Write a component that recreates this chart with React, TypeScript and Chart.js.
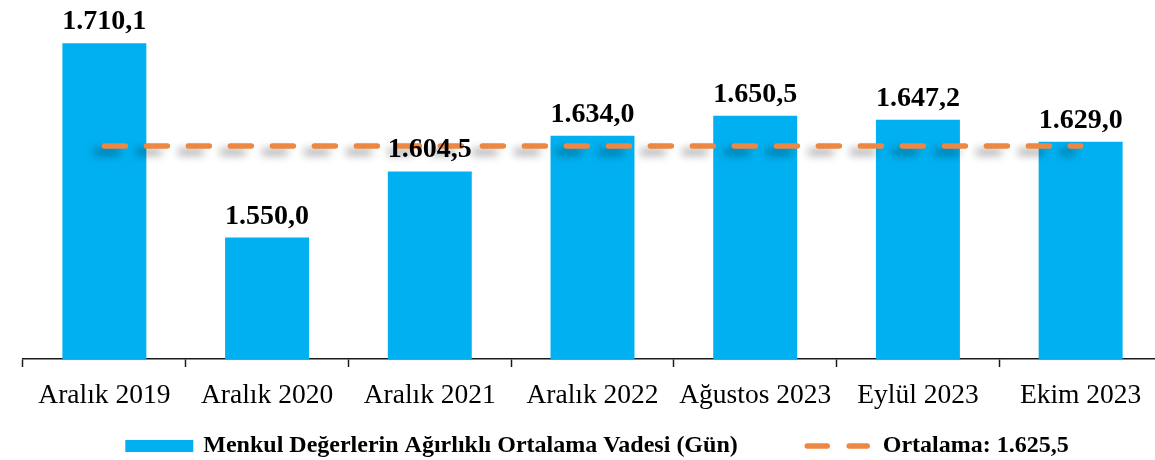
import React, { useEffect, useRef } from "react";
import { Chart, registerables } from "chart.js";

Chart.register(...registerables);

const categories = [
  "Aralık 2019",
  "Aralık 2020",
  "Aralık 2021",
  "Aralık 2022",
  "Ağustos 2023",
  "Eylül 2023",
  "Ekim 2023",
];
const maturityValues = [1710.1, 1550.0, 1604.5, 1634.0, 1650.5, 1647.2, 1629.0];
const averageValues = [1625.5, 1625.5, 1625.5, 1625.5, 1625.5, 1625.5, 1625.5];
const seriesLabels = [
  "Menkul Değerlerin Ağırlıklı Ortalama Vadesi (Gün)",
  "Ortalama: 1.625,5",
];
const yMin = 1450;
const yMax = 1740;

const SERIF = "'Times New Roman', 'Liberation Serif', serif";
const BAR_COLOR = "#00B0F0";
const LINE_COLOR = "#EC8843";

function formatTr(v: number): string {
  const [intPart, decPart] = v.toFixed(1).split(".");
  const withDots = intPart.replace(/\B(?=(\d{3})+(?!\d))/g, ".");
  return withDots + "," + decPart;
}

const shadowPlugin = {
  id: "lineShadow",
  beforeDatasetDraw(chart: any, args: any) {
    if (args.index !== 1) return;
    const ctx = chart.ctx;
    ctx.save();
    ctx.shadowColor = "rgba(0,0,0,0.4)";
    ctx.shadowBlur = 8;
    ctx.shadowOffsetX = -8;
    ctx.shadowOffsetY = 6;
  },
  afterDatasetDraw(chart: any, args: any) {
    if (args.index !== 1) return;
    chart.ctx.restore();
  },
};

const valueLabelPlugin = {
  id: "valueLabels",
  afterDatasetsDraw(chart: any) {
    const ctx = chart.ctx;
    const meta = chart.getDatasetMeta(0);
    ctx.save();
    ctx.font = `bold 28px ${SERIF}`;
    ctx.fillStyle = "#000";
    ctx.textAlign = "center";
    ctx.textBaseline = "alphabetic";
    meta.data.forEach((el: any, i: number) => {
      const v = chart.data.datasets[0].data[i] as number;
      ctx.fillText(formatTr(v), el.x, el.y - 14);
    });
    ctx.restore();
  },
};

const legendPlugin = {
  id: "customLegend",
  afterDraw(chart: any) {
    const ctx = chart.ctx;
    const ds = chart.data.datasets;
    ctx.save();
    ctx.font = `bold 24px ${SERIF}`;
    const boxW = 68;
    const boxH = 12;
    const lineW = 65;
    const textGap = 10;
    const lineTextGap = 13;
    const itemGap = 67;
    const w1 = ctx.measureText(ds[0].label).width;
    const w2 = ctx.measureText(ds[1].label).width;
    const total = boxW + textGap + w1 + itemGap + lineW + lineTextGap + w2;
    let x = chart.width / 2 - total / 2;
    const y = chart.height - 14;

    ctx.fillStyle = ds[0].backgroundColor;
    ctx.fillRect(x, y - boxH / 2, boxW, boxH);
    x += boxW + textGap;
    ctx.fillStyle = "#000";
    ctx.textAlign = "left";
    ctx.textBaseline = "middle";
    ctx.fillText(ds[0].label, x, y);
    x += w1 + itemGap;

    ctx.strokeStyle = ds[1].borderColor;
    ctx.lineWidth = 5.5;
    ctx.lineCap = "round";
    ctx.setLineDash([20, 22]);
    ctx.beginPath();
    ctx.moveTo(x + 2.5, y);
    ctx.lineTo(x + lineW - 2.5, y);
    ctx.stroke();
    ctx.setLineDash([]);
    x += lineW + lineTextGap;
    ctx.fillStyle = "#000";
    ctx.fillText(ds[1].label, x, y);
    ctx.restore();
  },
};

export default function App() {
  const canvasRef = useRef<HTMLCanvasElement | null>(null);

  useEffect(() => {
    const canvas = canvasRef.current;
    if (!canvas) return;
    const chart = new Chart(canvas, {
      type: "bar",
      data: {
        labels: categories,
        datasets: [
          {
            type: "bar",
            label: seriesLabels[0],
            data: maturityValues,
            backgroundColor: BAR_COLOR,
            borderWidth: 0,
            categoryPercentage: 1,
            barPercentage: 0.516,
            order: 1,
          },
          {
            type: "line",
            label: seriesLabels[1],
            data: averageValues,
            borderColor: LINE_COLOR,
            backgroundColor: LINE_COLOR,
            borderWidth: 5.5,
            borderDash: [21, 21],
            borderCapStyle: "round",
            pointRadius: 0,
            fill: false,
            tension: 0,
            order: 0,
          },
        ],
      } as any,
      options: {
        responsive: false,
        animation: false,
        devicePixelRatio: 1,
        layout: { padding: { left: 23, right: 32, top: 7, bottom: 36 } },
        plugins: {
          legend: { display: false },
          tooltip: { enabled: false },
        },
        scales: {
          x: {
            grid: {
              display: true,
              drawOnChartArea: false,
              drawTicks: true,
              tickLength: 8,
              tickWidth: 1.5,
              tickColor: "#1a1a1a",
              offset: true,
            },
            border: { display: true, color: "#1a1a1a", width: 1.5 },
            ticks: {
              color: "#000",
              font: { family: SERIF, size: 27.5 },
              padding: 12,
              maxRotation: 0,
              autoSkip: false,
            },
          },
          y: {
            display: false,
            min: yMin,
            max: yMax,
          },
        },
      },
      plugins: [shadowPlugin, valueLabelPlugin, legendPlugin],
    });
    return () => chart.destroy();
  }, []);

  return (
    <div
      style={{
        position: "fixed",
        left: 0,
        top: 0,
        width: 1155,
        height: 460,
        overflow: "hidden",
        background: "#fff",
      }}
    >
      <canvas ref={canvasRef} width={1194} height={460} style={{ display: "block" }} />
    </div>
  );
}
